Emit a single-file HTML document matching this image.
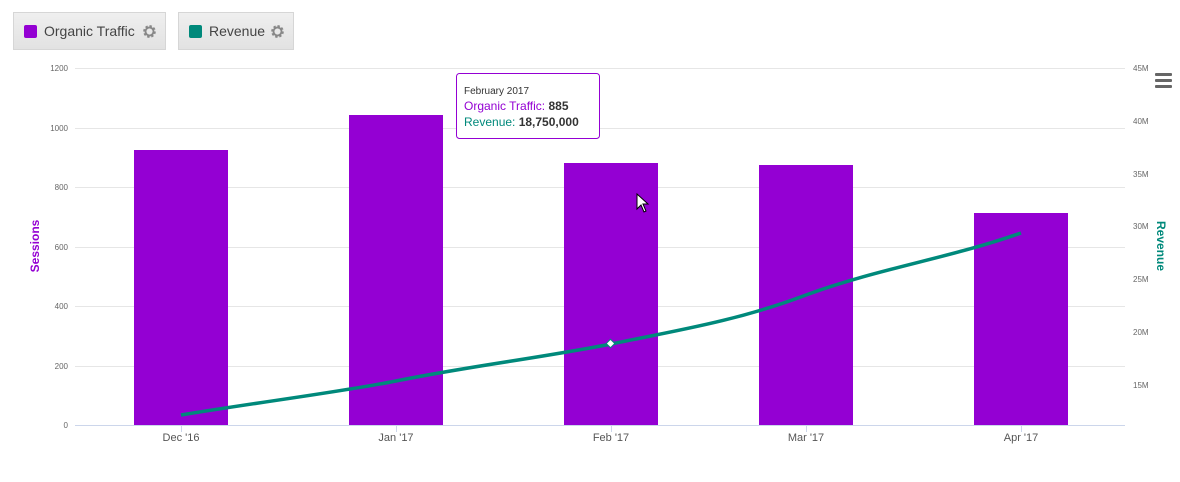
<!DOCTYPE html>
<html><head><meta charset="utf-8"><style>
body{margin:0;background:#fff;width:1180px;height:482px;overflow:hidden;font-family:"Liberation Sans",sans-serif}
.btn{position:absolute;top:12px;height:38px;background:linear-gradient(#efefef,#e2e2e2);border:1px solid #d6d6d6;box-sizing:border-box;font-size:14px;color:#444;display:flex;align-items:center}
.sw{width:13px;height:13px;border-radius:2px;margin:0 7px 0 10px}
.gear{width:15px;height:15px;margin-left:auto;margin-right:8px}
</style></head><body>
<div class="btn" style="left:13px;width:153px"><div class="sw" style="background:#9400d3"></div>Organic Traffic<svg class="gear" viewBox="0 0 16 16"><circle cx="8" cy="8" r="5" fill="none" stroke="#888" stroke-width="3.5" stroke-dasharray="2.2 1.7"/><circle cx="8" cy="8" r="4.3" fill="none" stroke="#888" stroke-width="2"/></svg></div>
<div class="btn" style="left:178px;width:116px"><div class="sw" style="background:#00897b"></div>Revenue<svg class="gear" viewBox="0 0 16 16"><circle cx="8" cy="8" r="5" fill="none" stroke="#888" stroke-width="3.5" stroke-dasharray="2.2 1.7"/><circle cx="8" cy="8" r="4.3" fill="none" stroke="#888" stroke-width="2"/></svg></div>
<svg width="1180" height="482" style="position:absolute;left:0;top:0" font-family="Liberation Sans, sans-serif">
<g stroke="#e6e6e6" stroke-width="1">
<line x1="75" x2="1125" y1="68.5" y2="68.5"/><line x1="75" x2="1125" y1="128.5" y2="128.5"/><line x1="75" x2="1125" y1="187.5" y2="187.5"/><line x1="75" x2="1125" y1="247.5" y2="247.5"/><line x1="75" x2="1125" y1="306.5" y2="306.5"/><line x1="75" x2="1125" y1="366.5" y2="366.5"/>
</g>
<g font-size="8" fill="#666" text-anchor="end">
<text x="68" y="71">1200</text><text x="68" y="131">1000</text><text x="68" y="190">800</text><text x="68" y="250">600</text><text x="68" y="309">400</text><text x="68" y="369">200</text><text x="68" y="428">0</text>
</g>
<g font-size="8" fill="#666">
<text x="1133" y="71">45M</text><text x="1133" y="124">40M</text><text x="1133" y="177">35M</text><text x="1133" y="229">30M</text><text x="1133" y="282">25M</text><text x="1133" y="335">20M</text><text x="1133" y="388">15M</text>
</g>
<text transform="translate(39,246) rotate(-90)" text-anchor="middle" font-size="12" font-weight="bold" fill="#9400d3">Sessions</text>
<text transform="translate(1157,246) rotate(90)" text-anchor="middle" font-size="12" font-weight="bold" fill="#00897b">Revenue</text>
<g fill="#9400d3">
<rect x="134" y="150" width="94" height="275"/><rect x="349" y="115" width="94" height="310"/><rect x="564" y="163" width="94" height="262"/><rect x="759" y="165" width="94" height="260"/><rect x="974" y="213" width="94" height="212"/>
</g>
<line x1="75" x2="1125" y1="425.5" y2="425.5" stroke="#ccd6eb"/>
<g stroke="#ccd6eb"><line x1="181.5" x2="181.5" y1="425" y2="432"/><line x1="396.5" x2="396.5" y1="425" y2="432"/><line x1="611.5" x2="611.5" y1="425" y2="432"/><line x1="806.5" x2="806.5" y1="425" y2="432"/><line x1="1021.5" x2="1021.5" y1="425" y2="432"/></g>
<g font-size="11" fill="#555" text-anchor="middle">
<text x="181" y="441">Dec '16</text><text x="396" y="441">Jan '17</text><text x="611" y="441">Feb '17</text><text x="806" y="441">Mar '17</text><text x="1021" y="441">Apr '17</text>
</g>
<path d="M181 415 C260 402 340 392 396 381 C470 366 540 358 611 344 C680 330 740 320 806 295 C880 268 950 258 1021 233" fill="none" stroke="#00897b" stroke-width="3.5"/>
<rect x="607.5" y="340.5" width="6" height="6" transform="rotate(45 610.5 343.5)" fill="#fff" stroke="#00897b"/>
<g fill="#666"><rect x="1155" y="73" width="17" height="3" rx="1"/><rect x="1155" y="79" width="17" height="3" rx="1"/><rect x="1155" y="85" width="17" height="3" rx="1"/></g>
<rect x="456.5" y="73.5" width="143" height="65" rx="3" fill="#fff" stroke="#9400d3" stroke-width="1"/>
<text x="464" y="94" font-size="10" fill="#333">February 2017</text>
<text x="464" y="110" font-size="12"><tspan fill="#9400d3">Organic Traffic: </tspan><tspan fill="#333" font-weight="bold">885</tspan></text>
<text x="464" y="126" font-size="12"><tspan fill="#00897b">Revenue: </tspan><tspan fill="#333" font-weight="bold">18,750,000</tspan></text>
<path d="M637 194 L637 209 L641 205 L644 212 L646 211 L643 204 L648 204 Z" fill="#fff" stroke="#000" stroke-width="1"/>
</svg>
</body></html>
